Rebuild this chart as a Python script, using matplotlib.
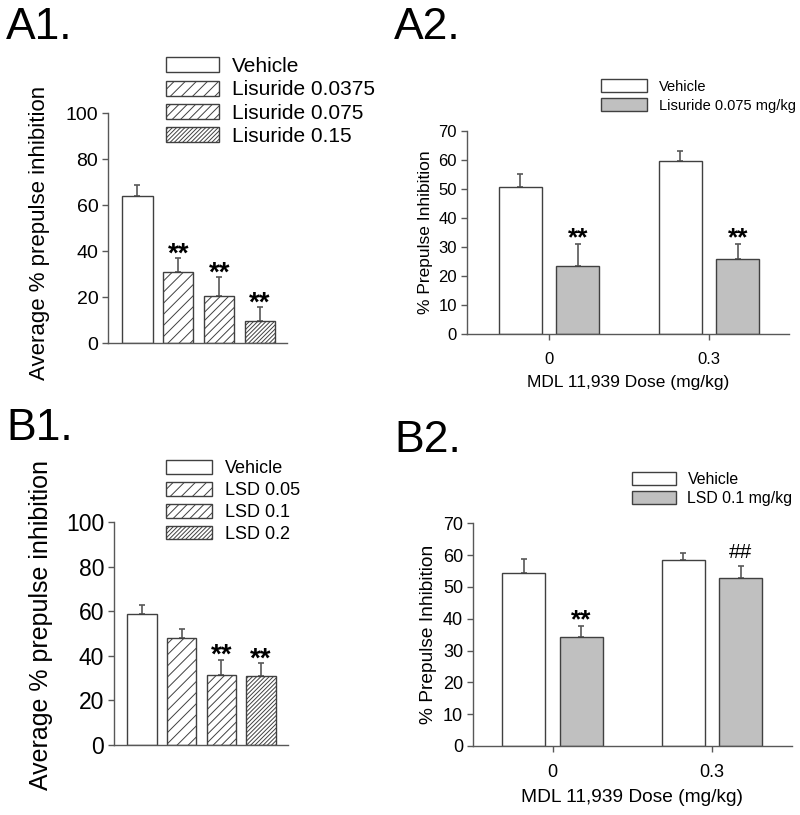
import numpy as np
import matplotlib
matplotlib.use("Agg")
import matplotlib.pyplot as plt

plt.rcParams['font.family'] = ['Liberation Sans', 'DejaVu Sans']
plt.rcParams['hatch.linewidth'] = 0.7

# ---------------- data ----------------
# A1: lisuride dose-response
a1_labels = ["Vehicle", "Lisuride 0.0375", "Lisuride 0.075", "Lisuride 0.15"]
a1_mean = [64.0, 30.7, 20.3, 9.4]
a1_sem = [4.8, 6.1, 8.3, 6.2]
a1_sig = ["", "**", "**", "**"]

# B1: LSD dose-response
b1_labels = ["Vehicle", "LSD 0.05", "LSD 0.1", "LSD 0.2"]
b1_mean = [58.6, 48.1, 31.3, 30.8]
b1_sem = [4.0, 3.8, 7.0, 5.8]
b1_sig = ["", "", "**", "**"]

# A2 / B2: MDL 11,939 pretreatment
mdl_doses = ["0", "0.3"]
a2_labels = ["Vehicle", "Lisuride 0.075 mg/kg"]
a2_veh_mean = [50.5, 59.4]
a2_veh_sem = [4.5, 3.7]
a2_drug_mean = [23.3, 25.8]
a2_drug_sem = [7.6, 5.1]
a2_sig = ["**", "**"]

b2_labels = ["Vehicle", "LSD 0.1 mg/kg"]
b2_veh_mean = [54.3, 58.4]
b2_veh_sem = [4.6, 2.2]
b2_drug_mean = [34.2, 52.9]
b2_drug_sem = [3.5, 3.8]
b2_sig = ["**", "##"]

EDGE = '#404040'
AXC = '#585858'
GRAY = '#c0c0c0'
W, H = 800, 815


def fig_xy(px, py):
    return px / W, 1 - py / H


def style_axes(ax, tick_fs):
    for s in ['top', 'right']:
        ax.spines[s].set_visible(False)
    for s in ['left', 'bottom']:
        ax.spines[s].set_color(AXC)
        ax.spines[s].set_linewidth(1.0)
    ax.tick_params(axis='y', direction='out', length=4, width=1.0,
                   color=AXC, labelsize=tick_fs, pad=3)


def add_sig(ax, x, top, txt, fs, lift):
    if not txt:
        return
    if txt == "**":
        ax.annotate(txt, (x, top), xytext=(0, -0.45 * fs + lift),
                    textcoords='offset points', ha='center', va='baseline',
                    fontsize=fs, fontweight='bold')
    else:
        ax.annotate(txt, (x, top), xytext=(0, 5.5), textcoords='offset points',
                    ha='center', va='baseline', fontsize=15)


def add_legend(ax, anchor, fs, geom):
    hl, hh, ls, tp = geom
    ax.legend(loc='upper left', bbox_to_anchor=fig_xy(*anchor),
              bbox_transform=fig.transFigure, frameon=False, fontsize=fs,
              handlelength=hl, handleheight=hh, labelspacing=ls,
              handletextpad=tp, borderpad=0, borderaxespad=0)


def dose_panel(rect, labels, means, sems, sig, hatches, tick_fs, ylab_fs,
               ylab_xy, leg_fs, leg_anchor, leg_geom, star_fs, xlim):
    ax = fig.add_axes(rect)
    x = np.arange(len(means))
    for i in range(len(means)):
        ax.bar(x[i], means[i], width=0.74, color='white', edgecolor=EDGE,
               hatch=hatches[i], linewidth=1.0, label=labels[i], zorder=2)
    ax.errorbar(x, means, yerr=[np.zeros(len(sems)), sems], fmt='none',
                ecolor=AXC, elinewidth=1.2, capsize=2.3, capthick=1.2, zorder=1)
    for i in range(len(means)):
        add_sig(ax, x[i], means[i] + sems[i], sig[i], star_fs, 6.5)
    ax.set_xlim(*xlim)
    ax.set_ylim(0, 100)
    ax.set_yticks([0, 20, 40, 60, 80, 100])
    ax.set_xticks([])
    style_axes(ax, tick_fs)
    ax.set_ylabel("Average % prepulse inhibition", fontsize=ylab_fs)
    ax.yaxis.set_label_coords(*ylab_xy)
    add_legend(ax, leg_anchor, leg_fs, leg_geom)
    return ax


def mdl_panel(rect, labels, vm, vs, dm, ds, sig, tick_fs, lab_fs, leg_fs,
              leg_anchor, leg_geom, star_fs, xlim):
    ax = fig.add_axes(rect)
    x = np.arange(len(mdl_doses))
    off, bw = 0.18, 0.27
    ax.bar(x - off, vm, width=bw, color='white', edgecolor=EDGE,
           linewidth=1.0, label=labels[0], zorder=2)
    ax.bar(x + off, dm, width=bw, color=GRAY, edgecolor=EDGE,
           linewidth=1.0, label=labels[1], zorder=2)
    ax.errorbar(x - off, vm, yerr=[np.zeros(len(vs)), vs], fmt='none',
                ecolor=AXC, elinewidth=1.2, capsize=2.5, capthick=1.2, zorder=1)
    ax.errorbar(x + off, dm, yerr=[np.zeros(len(ds)), ds], fmt='none',
                ecolor=AXC, elinewidth=1.2, capsize=2.5, capthick=1.2, zorder=1)
    for i in range(len(x)):
        add_sig(ax, x[i] + off, dm[i] + ds[i], sig[i], star_fs, 8.0)
    ax.set_xlim(*xlim)
    ax.set_ylim(0, 70)
    ax.set_yticks(np.arange(0, 71, 10))
    ax.set_xticks(x)
    ax.set_xticklabels(mdl_doses)
    style_axes(ax, tick_fs)
    ax.tick_params(axis='x', direction='out', length=4, width=1.0, color=AXC,
                   labelsize=tick_fs, pad=9)
    ax.set_ylabel("% Prepulse Inhibition", fontsize=lab_fs, labelpad=4)
    ax.set_xlabel("MDL 11,939 Dose (mg/kg)", fontsize=lab_fs, labelpad=6)
    add_legend(ax, leg_anchor, leg_fs, leg_geom)
    return ax


fig = plt.figure(figsize=(8.0, 8.15), dpi=100)

# A1
dose_panel([108 / W, 1 - 343 / H, (287 - 108) / W, (343 - 113) / H],
           a1_labels, a1_mean, a1_sem, a1_sig,
           ['', '///', '////', '////////'],
           tick_fs=14, ylab_fs=16, ylab_xy=(-0.324, 0.48), leg_fs=15,
           leg_anchor=(166, 57), leg_geom=(2.55, 0.72, 0.21, 0.62),
           star_fs=20, xlim=(-0.72, 3.66))

# B1
dose_panel([114 / W, 1 - 745 / H, (288 - 114) / W, (745 - 522) / H],
           b1_labels, b1_mean, b1_sem, b1_sig,
           ['', '///', '////', '////////'],
           tick_fs=16.5, ylab_fs=18, ylab_xy=(-0.35, 0.54), leg_fs=13,
           leg_anchor=(166, 460), leg_geom=(2.56, 0.8, 0.26, 0.72),
           star_fs=20, xlim=(-0.705, 3.68))

# A2
mdl_panel([466.7 / W, 1 - 334 / H, (789 - 466.7) / W, (334 - 130.7) / H],
          a2_labels, a2_veh_mean, a2_veh_sem, a2_drug_mean, a2_drug_sem,
          a2_sig, tick_fs=12, lab_fs=12.5, leg_fs=10.5, leg_anchor=(600.7, 79),
          leg_geom=(3.15, 1.03, 0.3, 0.82), star_fs=19, xlim=(-0.514, 1.5))

# B2
mdl_panel([472.7 / W, 1 - 746 / H, (792 - 472.7) / W, (746 - 523.3) / H],
          b2_labels, b2_veh_mean, b2_veh_sem, b2_drug_mean, b2_drug_sem,
          b2_sig, tick_fs=13, lab_fs=13.8, leg_fs=11.4, leg_anchor=(631.7, 472),
          leg_geom=(2.78, 0.87, 0.27, 0.74), star_fs=19, xlim=(-0.501, 1.5))

# panel letters
for lab, px, py in [("A1.", 6, 39), ("A2.", 394, 39), ("B1.", 6, 440), ("B2.", 394, 452)]:
    fx, fy = fig_xy(px, py)
    fig.text(fx, fy, lab, fontsize=32, ha='left', va='baseline')

fig.savefig("out.png", dpi=100)
